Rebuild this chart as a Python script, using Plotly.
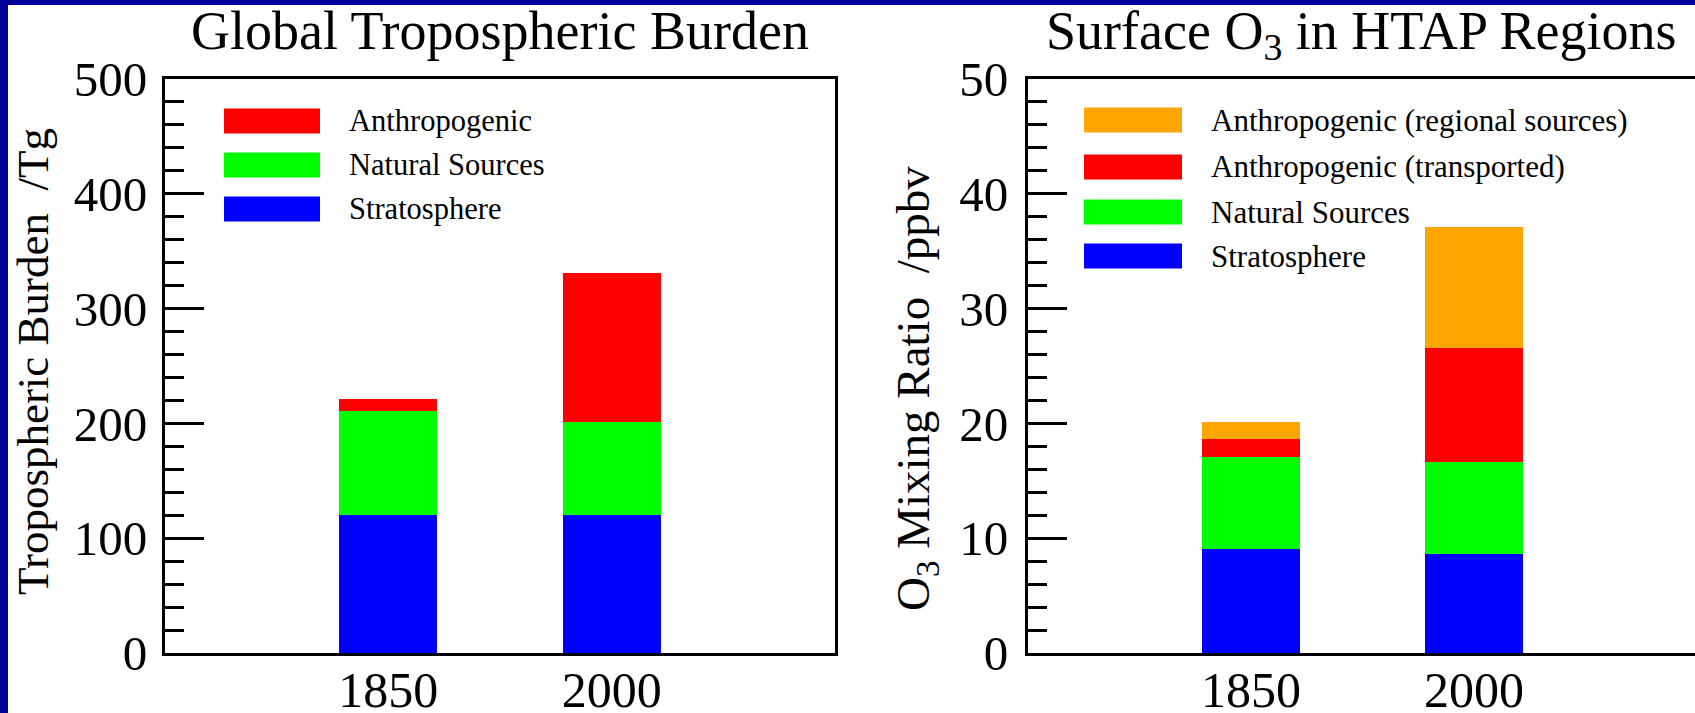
import plotly.graph_objects as go

# ---------------- data ----------------
years = ["1850", "2000"]
year_pos = [1, 2]

# Left panel: Global tropospheric burden (Tg)
burden_names = ["Stratosphere", "Natural Sources", "Anthropogenic"]
burden_strat = [120, 120]
burden_natural = [91, 81]
burden_anthro = [10, 130]
burden_colors = ["#0000FF", "#00FF00", "#FF0000"]

# Right panel: Surface O3 in HTAP regions (ppbv)
o3_names = ["Stratosphere", "Natural Sources", "Anthropogenic (transported)",
            "Anthropogenic (regional sources)"]
o3_strat = [9.1, 8.6]
o3_natural = [8.0, 8.0]
o3_transported = [1.5, 10.0]
o3_regional = [1.5, 10.5]
o3_colors = ["#0000FF", "#00FF00", "#FF0000", "#FFA500"]

left_ticks = [0, 100, 200, 300, 400, 500]
right_ticks = [0, 10, 20, 30, 40, 50]

# ---------------- layout helpers ----------------
W, H = 1695, 713
FONT = "Liberation Serif"


def px(x):
    return x / W


def py(y):
    return 1 - y / H


fig = go.Figure()

for name, vals, col in zip(burden_names, [burden_strat, burden_natural, burden_anthro], burden_colors):
    fig.add_trace(go.Bar(x=year_pos, y=vals, name=name, marker=dict(color=col, line=dict(width=0)),
                         width=0.44, xaxis="x", yaxis="y", showlegend=False))

for name, vals, col in zip(o3_names, [o3_strat, o3_natural, o3_transported, o3_regional], o3_colors):
    fig.add_trace(go.Bar(x=year_pos, y=vals, name=name, marker=dict(color=col, line=dict(width=0)),
                         width=0.44, xaxis="x2", yaxis="y2", showlegend=False))

axis_common = dict(showline=True, linewidth=3, linecolor="black", mirror=True,
                   showgrid=False, zeroline=False, automargin=False)

ydom = [py(653), py(79)]

fig.update_layout(
    width=W, height=H,
    margin=dict(l=0, r=0, t=0, b=0, pad=0, autoexpand=False),
    paper_bgcolor="#00009C",
    plot_bgcolor="white",
    barmode="stack",
    bargap=0,
    font=dict(family=FONT, color="black"),
    xaxis=dict(domain=[px(165), px(835)], range=[0, 3], anchor="y",
               tickvals=year_pos, ticktext=years, ticks="",
               tickfont=dict(size=50, family=FONT), ticklabelstandoff=-9, **axis_common),
    yaxis=dict(domain=ydom, range=[0, 500], anchor="x",
               tickvals=left_ticks, ticks="inside", ticklen=39, tickwidth=3, tickcolor="black",
               minor=dict(dtick=20, ticks="inside", ticklen=19, tickwidth=3, tickcolor="black"),
               tickfont=dict(size=49, family=FONT), ticklabelstandoff=5, **axis_common),
    xaxis2=dict(domain=[px(1028), 1.0], range=[0, (W - 1028) / 223.0], anchor="y2",
                tickvals=year_pos, ticktext=years, ticks="",
                tickfont=dict(size=50, family=FONT), ticklabelstandoff=-9, **axis_common),
    yaxis2=dict(domain=ydom, range=[0, 50], anchor="x2",
                tickvals=right_ticks, ticks="inside", ticklen=39, tickwidth=3, tickcolor="black",
                minor=dict(dtick=2, ticks="inside", ticklen=19, tickwidth=3, tickcolor="black"),
                tickfont=dict(size=49, family=FONT), ticklabelstandoff=7, **axis_common),
)

shapes = [
    # white page inside the blue frame
    dict(type="rect", xref="paper", yref="paper", x0=px(8), x1=1.02, y0=-0.02, y1=py(5),
         fillcolor="white", line=dict(width=0), layer="below"),
]
annotations = []

# Titles
annotations.append(dict(text="Global Tropospheric Burden", x=px(500), y=py(31), xref="paper", yref="paper",
                        showarrow=False, xanchor="center", yanchor="middle",
                        font=dict(size=54, family=FONT, color="black")))
annotations.append(dict(text="Surface O<sub>3</sub> in HTAP Regions", x=px(1361), y=py(34), xref="paper",
                        yref="paper", showarrow=False, xanchor="center", yanchor="middle",
                        font=dict(size=54, family=FONT, color="black")))

# Axis titles
annotations.append(dict(text="Tropospheric Burden \u00a0/Tg", x=px(33), y=py(362), xref="paper", yref="paper",
                        showarrow=False, textangle=-90, xanchor="center", yanchor="middle",
                        font=dict(size=45, family=FONT, color="black")))
annotations.append(dict(text="O<sub>3</sub> Mixing Ratio \u00a0/ppbv", x=px(916), y=py(389), xref="paper",
                        yref="paper", showarrow=False, textangle=-90, xanchor="center", yanchor="middle",
                        font=dict(size=47, family=FONT, color="black")))


# Legends (drawn as swatches + labels, top to bottom = reverse stack order)
def add_legend(names, colors, sx0, sx1, tx, rows, fs):
    for name, col, yc in zip(names, colors, rows):
        shapes.append(dict(type="rect", xref="paper", yref="paper", x0=px(sx0), x1=px(sx1),
                           y0=py(yc + 12.5), y1=py(yc - 12.5), fillcolor=col, line=dict(width=0)))
        annotations.append(dict(text=name, x=px(tx), y=py(yc), xref="paper", yref="paper",
                                showarrow=False, xanchor="left", yanchor="middle",
                                font=dict(size=fs, family=FONT, color="black")))


add_legend(burden_names[::-1], burden_colors[::-1], 224, 320, 347, [121, 165, 209], 30.5)
add_legend(o3_names[::-1], o3_colors[::-1], 1084, 1182, 1209, [120, 167, 212, 256], 31)

fig.update_layout(shapes=shapes, annotations=annotations)

fig.write_html("out.html")
